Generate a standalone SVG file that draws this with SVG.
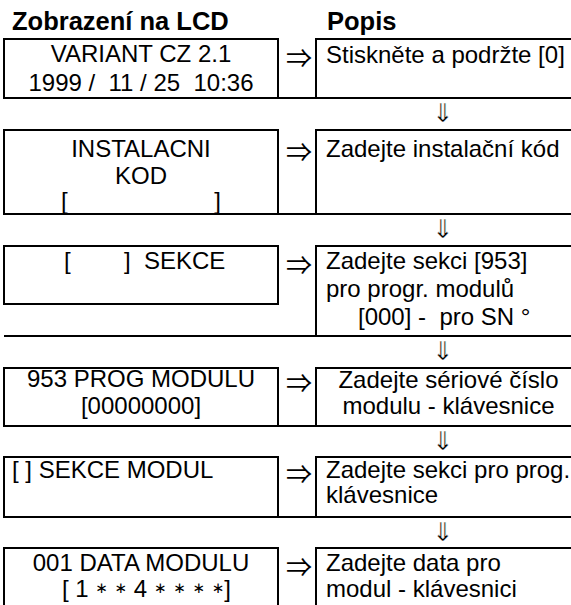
<svg xmlns="http://www.w3.org/2000/svg" width="571" height="605" viewBox="0 0 571 605">
<style>
.bx{fill:none;stroke:#000;stroke-width:2}
.t{font-family:"Liberation Sans",Arial,sans-serif;font-size:24px;fill:#000}
.c{text-anchor:middle}
.h{font-family:"Liberation Sans",Arial,sans-serif;font-size:25.5px;font-weight:bold;fill:#000}
.a{font-family:"Noto Sans CJK JP","DejaVu Sans",sans-serif;font-size:26px;fill:#000;text-anchor:middle}
.d{font-family:"DejaVu Sans",sans-serif;font-size:26px;fill:#000;stroke:#fff;stroke-width:0.5px;text-anchor:middle}
.s{font-family:"DejaVu Sans",sans-serif;font-size:15px}
</style>
<rect width="571" height="605" fill="#fff"/>
<g id="headers">
<text class="h" x="12" y="30">Zobrazení na LCD</text>
<text class="h" x="327" y="30">Popis</text>
</g>
<g id="lcd1">
<rect class="bx" x="4" y="39" width="274" height="59"/>
<text class="t c" x="141" y="62">VARIANT CZ 2.1</text>
<text class="t c" x="141" y="91" xml:space="preserve">1999 /  11 / 25  10:36</text>
</g>
<g id="desc1">
<path class="bx" d="M575,39H316V98M4,98H575"/>
<text class="t" x="326" y="63">Stiskněte a podržte [0]</text>
</g>
<g id="lcd2">
<rect class="bx" x="4" y="130" width="274" height="84"/>
<text class="t c" x="141" y="157">INSTALACNI</text>
<text class="t c" x="141" y="184">KOD</text>
<text class="t" x="61" y="209" xml:space="preserve">[                      ]</text>
</g>
<g id="desc2">
<path class="bx" d="M575,130H316V214M4,214H575"/>
<text class="t" x="326" y="157">Zadejte instalační kód</text>
</g>
<g id="lcd3">
<rect class="bx" x="4" y="246" width="274" height="58"/>
<text class="t" x="64" y="269" xml:space="preserve">[        ]  SEKCE</text>
</g>
<g id="desc3">
<path class="bx" d="M575,246H316V336M4,336H575"/>
<text class="t" x="326" y="269">Zadejte sekci [953]</text>
<text class="t" x="326" y="297">pro progr. modulů</text>
<text class="t" x="358" y="325" xml:space="preserve">[000] -  pro SN °</text>
</g>
<g id="lcd4">
<rect class="bx" x="4" y="368" width="274" height="58"/>
<text class="t c" x="141" y="387">953 PROG MODULU</text>
<text class="t c" x="141" y="414">[00000000]</text>
</g>
<g id="desc4">
<path class="bx" d="M575,368H316V426M4,426H575"/>
<text class="t c" x="448.5" y="388">Zadejte sériové číslo</text>
<text class="t c" x="448.5" y="414">modulu - klávesnice</text>
</g>
<g id="lcd5">
<rect class="bx" x="4" y="457" width="274" height="60"/>
<text class="t" x="12" y="478">[ ] SEKCE MODUL</text>
</g>
<g id="desc5">
<path class="bx" d="M575,457H316V517M4,517H575"/>
<text class="t" x="326" y="478">Zadejte sekci pro prog.</text>
<text class="t" x="326" y="503">klávesnice</text>
</g>
<g id="lcd6">
<rect class="bx" x="4" y="548" width="274" height="70"/>
<text class="t c" x="141" y="571">001 DATA MODULU</text>
<text class="t" x="62" y="597" xml:space="preserve">[ 1 <tspan class="s" baseline-shift="4">∗</tspan> <tspan class="s" baseline-shift="4">∗</tspan> 4 <tspan class="s" baseline-shift="4">∗</tspan> <tspan class="s" baseline-shift="4">∗</tspan> <tspan class="s" baseline-shift="4">∗</tspan> <tspan class="s" baseline-shift="4">∗</tspan>]</text>
</g>
<g id="desc6">
<path class="bx" d="M575,548H316V615"/>
<text class="t" x="326" y="571">Zadejte data pro</text>
<text class="t" x="326" y="597">modul - klávesnici</text>
</g>
<g id="connectors">
<text class="a" x="299" y="68">⇒</text>
<text class="a" x="299" y="162">⇒</text>
<text class="a" x="299" y="275">⇒</text>
<text class="a" x="299" y="393">⇒</text>
<text class="a" x="299" y="484">⇒</text>
<text class="a" x="299" y="577">⇒</text>
<text class="d" x="443" y="122">⇓</text>
<text class="d" x="443" y="238">⇓</text>
<text class="d" x="443" y="360">⇓</text>
<text class="d" x="443" y="450">⇓</text>
<text class="d" x="443" y="541">⇓</text>
</g>
</svg>
